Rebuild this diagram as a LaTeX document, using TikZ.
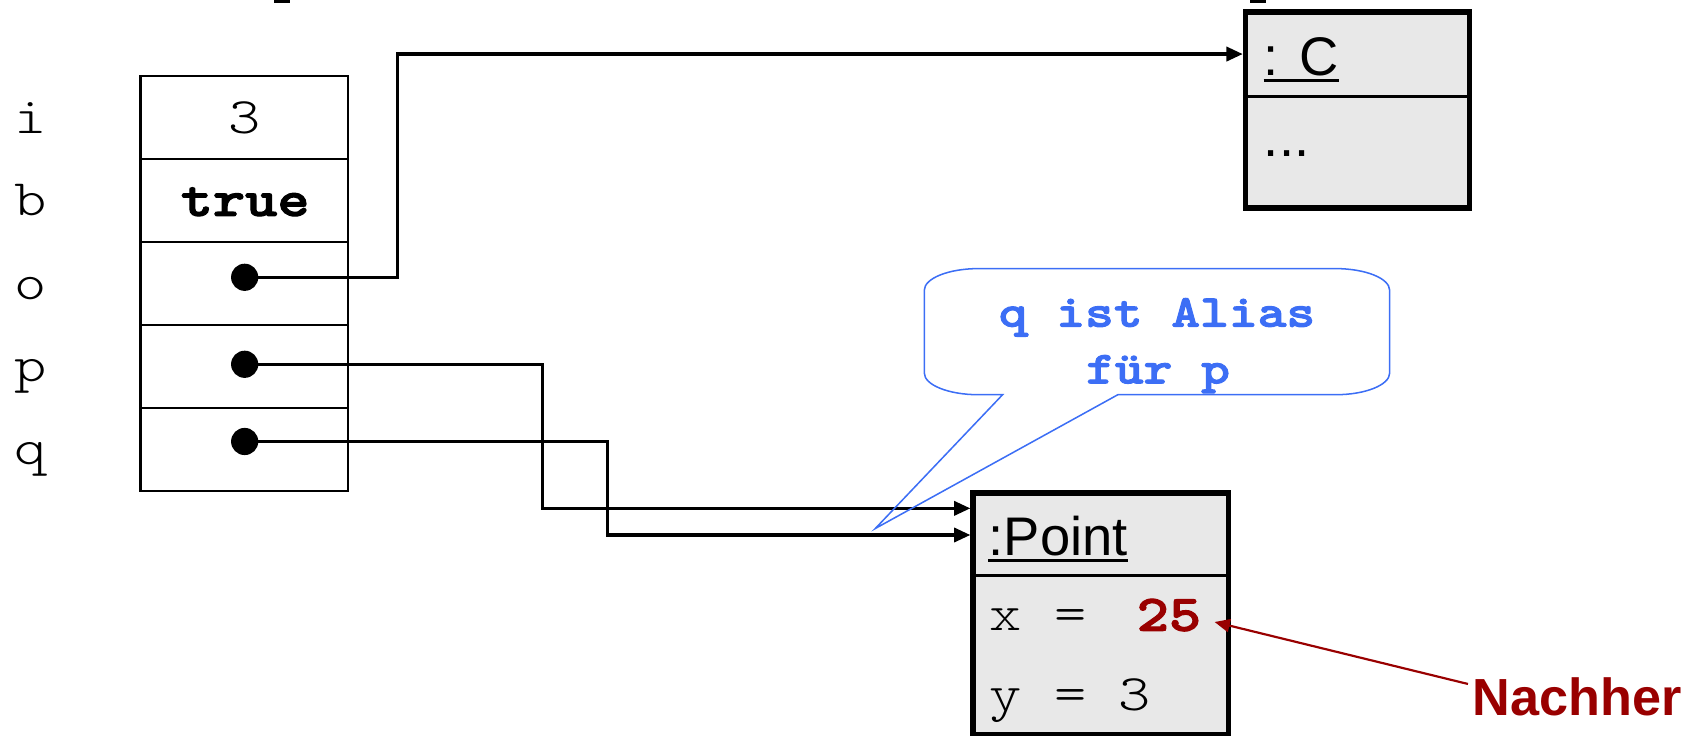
\documentclass[tikz,border=0pt]{standalone}
\usepackage{fontspec}
\setmainfont{Liberation Sans}
\newfontfamily\cmono{lmmonolt10-regular}[Extension=.otf,FakeStretch=1.2,BoldFont=lmmonolt10-bold,BoldFeatures={FakeBold=2.2}]
\usetikzlibrary{arrows.meta}
\definecolor{boxgray}{HTML}{E8E8E8}
\definecolor{darkred}{HTML}{990000}
\definecolor{calloutblue}{RGB}{60,110,245}
\begin{document}
\begin{tikzpicture}[x=0.5pt,y=-0.5pt,
  cell/.style={draw=black,line width=1pt,minimum width=95.5pt,minimum height=38.15pt,inner sep=0pt,fill=white},
  dotnode/.style={circle,fill=black,minimum size=12.5pt,inner sep=0pt},
  objbox/.style={draw=black,line width=2.6pt,fill=boxgray,inner sep=0pt},
  divider/.style={line width=1.4pt},
  conn/.style={line width=1.5pt,-{Triangle[length=7.5pt,width=6.5pt]}},
  redarrow/.style={draw=darkred,line width=1pt,-{Triangle[length=7pt,width=6pt]}},
  callout/.style={draw=calloutblue,line width=0.7pt},
  uline/.style={line width=1.3pt},
  monolabel/.style={font=\cmono\fontsize{23.5}{28}\selectfont,inner sep=0pt,anchor=base},
  monobold/.style={font=\cmono\bfseries\fontsize{23.5}{28}\selectfont,inner sep=0pt,anchor=base},
  monoleft/.style={font=\cmono\fontsize{23.5}{28}\selectfont,inner sep=0pt,anchor=base west},
  sanstitle/.style={font=\fontsize{25}{30}\selectfont,inner sep=0pt,anchor=base west},
  callouttext/.style={font=\cmono\bfseries\fontsize{21}{26}\selectfont,text=calloutblue,inner sep=0pt,anchor=base},
  redlabel/.style={font=\bfseries\fontsize{24}{28}\selectfont,text=darkred,inner sep=0pt,anchor=base west}
]
\useasboundingbox (0,0) rectangle (1568,676);

% fragments at the top edge
\fill (252,0) rectangle (267,2.5);
\fill (1150,0) rectangle (1164,2.5);

% variable names
\node[monolabel] (li) at (28,122.5) {i};
\node[monolabel] (lb) at (28,198.5) {b};
\node[monolabel] (lo) at (28,275) {o};
\node[monolabel] (lp) at (28,351) {p};
\node[monolabel] (lq) at (28,427) {q};

% variable cells
\node[cell] (ci) at (224.75,108.15) {};
\node[cell] (cb) at (224.75,184.45) {};
\node[cell] (co) at (224.75,260.75) {};
\node[cell] (cp) at (224.75,337.05) {};
\node[cell] (cq) at (224.75,413.35) {};
\node[monolabel] (vi) at (225,122.5) {3};
\node[monobold] (vb) at (225.5,198.5) {true};

% object C
\node[objbox,minimum width=102.9pt,minimum height=90.1pt] (cbox) at (1248.4,101.3) {};
\coordinate (cdiv) at (0,88.3);
\draw[divider] (cbox.west |- cdiv) -- (cbox.east |- cdiv);
\node[sanstitle] (ctitle) at (1162,69) {: C};
\draw[uline] ([yshift=-2.6pt]ctitle.base west) -- ([yshift=-2.6pt]ctitle.base east);
\node[sanstitle] (cdots) at (1162,144) {...};

% object Point
\node[objbox,minimum width=117.35pt,minimum height=111.35pt] (pbox) at (1012.35,564.65) {};
\coordinate (pdiv) at (0,529.3);
\draw[divider] (pbox.west |- pdiv) -- (pbox.east |- pdiv);
\node[sanstitle] (ptitle) at (909,510.4) {:Point};
\draw[uline] ([yshift=-2.6pt]ptitle.base west) -- ([yshift=-2.6pt]ptitle.base east);
\node[monoleft] (px) at (910,580) {x =};
\node[monobold,anchor=base west,text=darkred] (v25) at (1045,580) {25};
\node[monoleft] (py) at (910,653) {y = 3};

% reference dots
\node[dotnode] (odot) at (225,255) {};
\node[dotnode] (pdot) at (225,335) {};
\node[dotnode] (qdot) at (225,406) {};

% connectors
\draw[conn] (odot.center) -- (365.5,255) |- ([yshift=-20.55pt]cbox.north west);
\draw[conn] (pdot.center) -- (498.6,335) |- ([yshift=-8.4pt]pbox.north west);
\draw[conn] (qdot.center) -- (559,406) |- ([yshift=-20.65pt]pbox.north west);

% callout
\draw[callout] (922,363) -- (900,363)
  .. controls (872.4,363) and (850,354.05) .. (850,343)
  -- (850,267)
  .. controls (850,255.95) and (872.4,247) .. (900,247)
  -- (1228,247)
  .. controls (1255.6,247) and (1278,255.95) .. (1278,267)
  -- (1278,343)
  .. controls (1278,354.05) and (1255.6,363) .. (1228,363)
  -- (1028,363) -- (805,486) -- cycle;
\node[callouttext] (t1) at (1064,300.4) {q ist Alias};
\node[callouttext] (t2) at (1065,352.5) {für p};

% Nachher
\node[redlabel] (nach) at (1354,657.6) {Nachher};
\coordinate (nachtail) at (1350,629);
\coordinate (tip25) at (1117,572);
\draw[redarrow] (nachtail) -- (tip25);
\end{tikzpicture}
\end{document}
